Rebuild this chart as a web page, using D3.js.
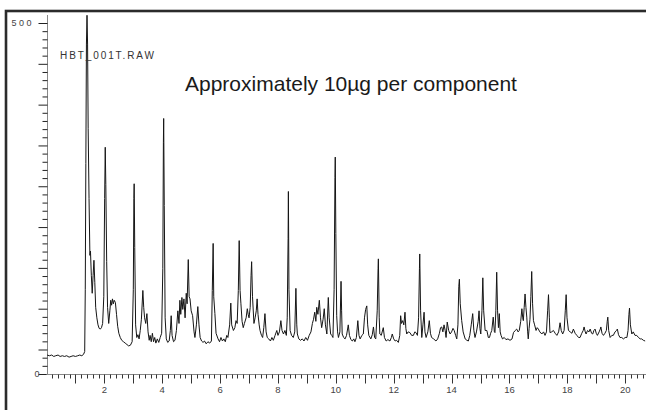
<!DOCTYPE html>
<html>
<head>
<meta charset="utf-8">
<script src="https://cdn.jsdelivr.net/npm/d3@7"></script>
<style>
  body { margin: 0; background: #fff; }
  svg { display: block; font-family: Arial, "Liberation Sans", sans-serif; }
</style>
</head>
<body>
<svg id="chart" width="646" height="410"></svg>
<script>
// retention time (min) vs. signal
const trace = [
  [0.02,27],[0.10,26],[0.18,27],[0.25,25],[0.32,26],[0.40,27],[0.47,25],[0.55,26],[0.62,25],[0.70,26],
  [0.78,24],[0.85,25],[0.92,26],[1.00,25],[1.08,26],[1.15,27],[1.22,26],[1.28,28],[1.32,32],
  [1.34,120],[1.36,300],[1.38,470],[1.40,511],[1.42,470],[1.44,350],[1.47,250],[1.50,169],[1.52,175],[1.55,140],
  [1.58,115],[1.61,140],[1.64,162],[1.67,130],[1.70,95],[1.74,80],[1.78,70],[1.82,65],[1.86,64],[1.90,66],
  [1.94,72],[1.98,110],[2.01,250],[2.03,323],[2.05,270],[2.08,160],[2.11,95],[2.15,72],[2.19,90],[2.22,105],
  [2.25,98],[2.28,107],[2.31,100],[2.34,105],[2.38,102],[2.42,85],[2.46,68],[2.50,58],[2.55,52],[2.60,48],
  [2.66,46],[2.72,44],[2.78,42],[2.84,40],[2.90,41],[2.96,46],[3.00,120],[3.02,250],[3.03,271],[3.05,180],
  [3.08,70],[3.12,52],[3.16,56],[3.20,50],[3.24,62],[3.28,78],[3.33,119],[3.36,95],[3.39,80],[3.43,72],
  [3.47,86],[3.51,60],[3.55,48],[3.58,55],[3.62,46],[3.66,58],[3.70,46],[3.74,52],[3.78,44],[3.83,50],
  [3.88,45],[3.93,52],[3.98,58],[4.02,150],[4.04,330],[4.05,364],[4.07,240],[4.10,80],[4.14,50],[4.19,45],
  [4.24,47],[4.28,62],[4.31,83],[4.34,55],[4.39,46],[4.44,48],[4.49,62],[4.54,90],[4.58,72],[4.61,105],
  [4.64,85],[4.68,109],[4.71,92],[4.75,107],[4.79,80],[4.83,115],[4.86,100],[4.90,163],[4.93,110],[4.96,107],
  [5.00,90],[5.05,83],[5.10,60],[5.13,52],[5.18,70],[5.23,96],[5.27,70],[5.31,52],[5.36,47],[5.41,45],
  [5.46,47],[5.52,43],[5.58,46],[5.64,44],[5.70,47],[5.73,119],[5.76,186],[5.78,110],[5.82,86],[5.86,58],
  [5.93,50],[5.98,46],[6.03,52],[6.08,47],[6.13,50],[6.18,46],[6.23,55],[6.27,52],[6.33,70],[6.37,101],
  [6.40,70],[6.46,62],[6.51,66],[6.55,76],[6.59,72],[6.63,119],[6.66,190],[6.69,119],[6.72,100],[6.76,75],
  [6.80,66],[6.84,72],[6.90,80],[6.94,93],[6.97,85],[7.00,80],[7.04,95],[7.07,140],[7.09,160],[7.12,110],
  [7.17,72],[7.21,80],[7.25,90],[7.28,107],[7.31,85],[7.35,70],[7.38,62],[7.43,55],[7.47,52],[7.51,66],
  [7.55,86],[7.59,60],[7.63,52],[7.68,50],[7.74,47],[7.79,52],[7.84,48],[7.90,55],[7.96,62],[8.00,55],
  [8.05,60],[8.10,76],[8.14,62],[8.19,57],[8.24,62],[8.29,55],[8.32,80],[8.35,193],[8.36,260],[8.38,120],
  [8.42,62],[8.47,55],[8.53,52],[8.58,60],[8.62,122],[8.65,70],[8.67,57],[8.72,50],[8.78,48],[8.84,50],
  [8.90,47],[8.96,52],[9.02,48],[9.08,55],[9.14,60],[9.19,72],[9.23,78],[9.27,88],[9.31,75],[9.34,95],
  [9.38,85],[9.43,105],[9.47,80],[9.51,66],[9.56,78],[9.60,93],[9.64,70],[9.69,57],[9.74,109],[9.77,80],
  [9.82,57],[9.86,55],[9.90,52],[9.94,120],[9.97,280],[9.98,309],[10.00,200],[10.03,83],[10.06,60],[10.09,52],
  [10.14,60],[10.18,132],[10.20,90],[10.22,57],[10.27,52],[10.32,50],[10.37,55],[10.43,70],[10.47,55],[10.52,49],
  [10.57,47],[10.62,50],[10.66,46],[10.71,52],[10.76,76],[10.80,55],[10.84,50],[10.90,55],[10.95,57],[10.99,80],
  [11.03,92],[11.07,97],[11.10,70],[11.14,55],[11.21,50],[11.26,56],[11.30,67],[11.34,52],[11.38,50],[11.43,90],
  [11.46,150],[11.47,164],[11.50,80],[11.52,57],[11.57,55],[11.64,66],[11.68,52],[11.74,47],[11.80,49],[11.87,47],
  [11.92,52],[11.95,57],[12.00,50],[12.05,47],[12.10,48],[12.16,45],[12.21,55],[12.24,83],[12.27,72],[12.31,76],
  [12.35,70],[12.39,88],[12.42,65],[12.45,57],[12.50,60],[12.56,59],[12.62,55],[12.68,55],[12.73,60],[12.77,59],
  [12.82,55],[12.86,80],[12.89,150],[12.90,171],[12.93,90],[12.97,52],[13.01,70],[13.05,88],[13.08,60],[13.12,52],
  [13.18,60],[13.23,76],[13.27,58],[13.31,52],[13.38,50],[13.46,47],[13.52,50],[13.58,58],[13.62,66],[13.66,67],
  [13.70,60],[13.74,70],[13.78,62],[13.81,52],[13.85,74],[13.90,62],[13.95,57],[14.00,60],[14.05,65],[14.09,62],
  [14.14,55],[14.18,50],[14.22,70],[14.25,125],[14.27,135],[14.30,100],[14.35,76],[14.40,60],[14.47,50],[14.53,48],
  [14.58,47],[14.63,55],[14.68,70],[14.73,86],[14.77,62],[14.81,52],[14.86,60],[14.92,75],[14.95,90],[14.98,65],
  [15.01,57],[15.05,90],[15.08,137],[15.11,90],[15.16,62],[15.22,62],[15.27,52],[15.31,52],[15.35,58],[15.39,62],
  [15.44,81],[15.48,60],[15.50,59],[15.53,90],[15.56,145],[15.59,90],[15.62,66],[15.65,86],[15.68,60],[15.71,55],
  [15.76,50],[15.82,52],[15.88,49],[15.95,50],[16.02,48],[16.09,50],[16.14,59],[16.20,62],[16.25,64],[16.30,60],
  [16.34,62],[16.39,75],[16.43,93],[16.46,80],[16.48,76],[16.51,95],[16.54,114],[16.57,95],[16.60,81],[16.63,60],
  [16.65,50],[16.68,65],[16.71,78],[16.74,110],[16.77,146],[16.80,100],[16.83,76],[16.87,70],[16.92,62],[16.96,66],
  [17.00,64],[17.05,60],[17.12,57],[17.18,60],[17.23,55],[17.28,60],[17.32,90],[17.35,113],[17.38,80],[17.40,59],
  [17.46,60],[17.52,62],[17.58,58],[17.64,55],[17.70,60],[17.75,73],[17.79,62],[17.84,57],[17.89,62],[17.93,90],
  [17.96,113],[17.99,80],[18.04,62],[18.10,60],[18.16,58],[18.21,64],[18.27,58],[18.33,55],[18.39,52],[18.44,52],
  [18.50,58],[18.55,62],[18.58,67],[18.62,60],[18.65,57],[18.70,62],[18.75,60],[18.79,64],[18.84,58],[18.88,57],
  [18.92,62],[18.96,64],[19.00,58],[19.04,55],[19.10,60],[19.14,64],[19.16,67],[19.20,58],[19.25,55],[19.30,58],
  [19.35,62],[19.38,75],[19.40,81],[19.43,62],[19.48,52],[19.54,55],[19.59,55],[19.65,60],[19.70,62],[19.73,64],
  [19.77,56],[19.82,52],[19.88,52],[19.94,50],[20.00,52],[20.06,52],[20.10,62],[20.13,85],[20.15,94],[20.18,70],
  [20.23,57],[20.28,60],[20.34,55],[20.40,55],[20.46,52],[20.52,50],[20.57,50],[20.63,48],[20.69,47]
];

const xLabels = [2, 4, 6, 8, 10, 12, 14, 16, 18, 20];
const yLabels = [0, 500];
const fileName = 'HBT_001T.RAW';
const title = 'Approximately 10\u00b5g per component';

const svg = d3.select('#chart');

// scales: x in minutes, y in counts
const x = d3.scaleLinear().domain([0, 20.72]).range([46.5, 646]);
const y = d3.scaleLinear().domain([0, 500]).range([374, 23]);

// outer frame (runs off the right and bottom edge)
svg.append('rect')
  .attr('x', 6).attr('y', 11)
  .attr('width', 700).attr('height', 500)
  .attr('fill', 'none')
  .attr('stroke', '#2b2b2b')
  .attr('stroke-width', 2.6);

// y axis - 43 minor steps between 0 and 500, every 5th one long
const yMinor = d3.range(0, 44).map(k => 500 - k * 500 / 43);
const yMajor = yMinor.filter((d, k) => k % 5 === 0).concat([0]);

const gy = svg.append('g').attr('transform', `translate(${x(0) + 1},0)`);
gy.append('line')
  .attr('y1', y(500) - 8).attr('y2', y(0))
  .attr('stroke', '#888');
gy.selectAll('line.minor')
  .data(yMinor)
  .join('line')
  .attr('class', 'minor')
  .attr('x1', d => yMajor.includes(d) ? -9 : -5).attr('x2', 0)
  .attr('y1', d => y(d) + 0.5).attr('y2', d => y(d) + 0.5)
  .attr('stroke', '#222');
gy.selectAll('text')
  .data(yLabels)
  .join('text')
  .attr('x', d => d === 0 ? -8 : -16)
  .attr('y', d => y(d) + 3)
  .attr('text-anchor', 'end')
  .attr('font-size', 9)
  .attr('fill', '#444')
  .attr('textLength', d => d === 0 ? 5 : 20)
  .attr('lengthAdjust', 'spacing')
  .text(d => d);

// x axis - ticks every 0.2 min, longer on whole minutes
const xTicks = d3.range(1, 104).map(i => i / 5);
const gx = svg.append('g').attr('transform', `translate(0,${y(0) + 0.5})`);
gx.append('line')
  .attr('x1', x(0)).attr('x2', 646)
  .attr('stroke', '#888');
gx.selectAll('line.tick')
  .data(xTicks)
  .join('line')
  .attr('class', 'tick')
  .attr('x1', d => Math.round(x(d)) + 0.5).attr('x2', d => Math.round(x(d)) + 0.5)
  .attr('y1', 0)
  .attr('y2', d => Math.abs(d - Math.round(d)) < 1e-6 ? 9 : 4)
  .attr('stroke', '#333');
gx.selectAll('text')
  .data(xLabels)
  .join('text')
  .attr('x', d => x(d))
  .attr('y', 18)
  .attr('text-anchor', 'middle')
  .attr('font-size', 9.5)
  .attr('fill', '#444')
  .text(d => d);

// the chromatogram trace
const line = d3.line()
  .x(d => x(d[0]))
  .y(d => y(d[1]));

svg.append('path')
  .datum(trace)
  .attr('d', line)
  .attr('fill', 'none')
  .attr('stroke', '#151515')
  .attr('stroke-width', 1);

// labels
svg.append('text')
  .attr('x', 60).attr('y', 59)
  .attr('font-size', 10)
  .attr('fill', '#333')
  .attr('textLength', 94)
  .attr('lengthAdjust', 'spacing')
  .text(fileName);

svg.append('text')
  .attr('x', 185).attr('y', 91)
  .attr('font-size', 21)
  .attr('fill', '#1a1a1a')
  .text(title);
</script>
</body>
</html>
